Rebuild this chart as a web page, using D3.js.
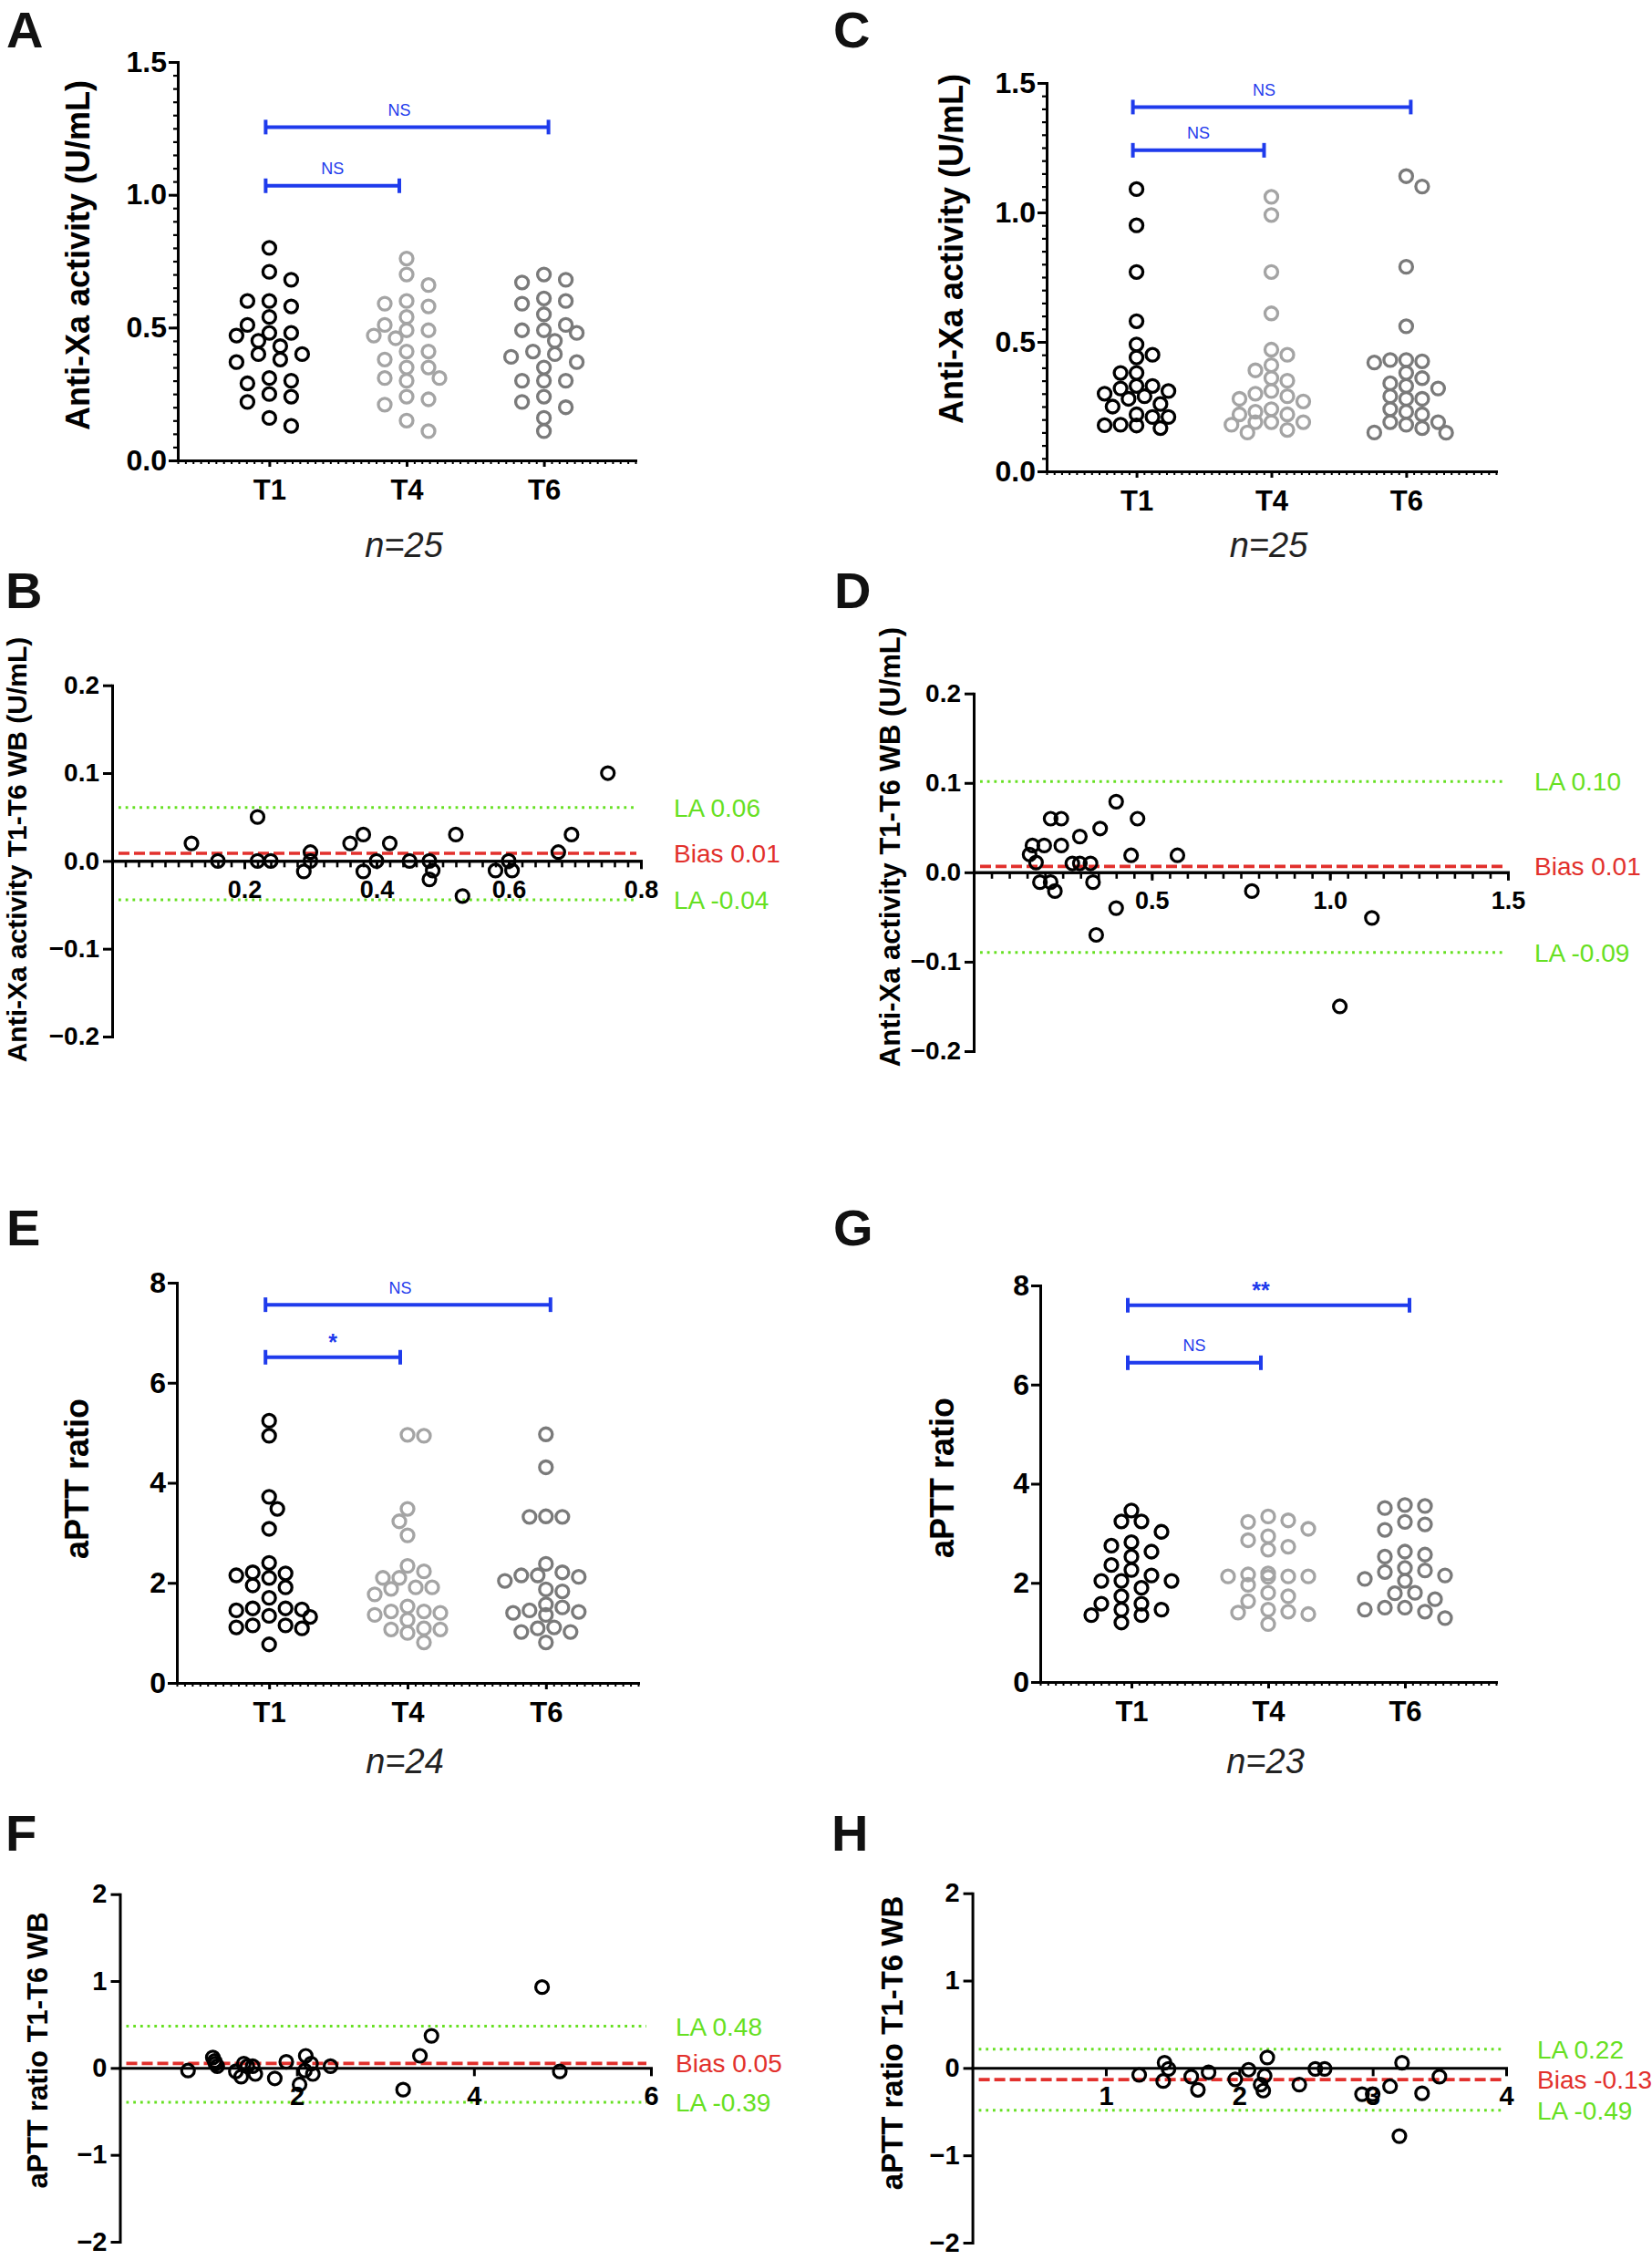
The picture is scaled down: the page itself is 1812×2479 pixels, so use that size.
<!DOCTYPE html>
<html><head><meta charset="utf-8">
<script src="https://cdn.jsdelivr.net/npm/d3@7"></script>
<style>body{margin:0;background:#fff}</style>
</head><body>
<svg id="fig" width="1812" height="2479"></svg>
<script>
// ---------------- DATA ----------------
const categories = ["T1", "T4", "T6"];

// Panel A: Anti-Xa activity (U/mL), n=25
const antiXaA_T1 = [0.58,0.60,0.71,0.80,0.68,0.60,0.54,0.48,0.48,0.43,0.47,0.51,0.45,0.40,0.40,0.37,0.38,0.30,0.31,0.29,0.24,0.25,0.22,0.16,0.13];
const antiXaA_T4 = [0.76,0.70,0.66,0.60,0.59,0.58,0.54,0.49,0.49,0.51,0.46,0.47,0.41,0.41,0.38,0.35,0.35,0.30,0.31,0.31,0.24,0.23,0.21,0.15,0.11];
const antiXaA_T6 = [0.70,0.68,0.67,0.59,0.60,0.61,0.55,0.49,0.48,0.49,0.51,0.45,0.40,0.41,0.37,0.39,0.35,0.30,0.30,0.30,0.24,0.22,0.20,0.16,0.11];
const bracketsA = [
  {from: "T1", to: "T4", value: 1.034, label: "NS"},
  {from: "T1", to: "T6", value: 1.255, label: "NS"}
];

// Panel C: Anti-Xa activity (U/mL), n=25
const antiXaC_T1 = [1.09,0.95,0.77,0.58,0.49,0.44,0.45,0.38,0.38,0.32,0.33,0.33,0.30,0.31,0.28,0.29,0.25,0.26,0.21,0.21,0.22,0.18,0.177,0.167,0.178];
const antiXaC_T4 = [1.06,0.99,0.77,0.61,0.47,0.45,0.41,0.39,0.36,0.35,0.30,0.31,0.28,0.29,0.27,0.24,0.22,0.23,0.22,0.19,0.19,0.19,0.18,0.16,0.15];
const antiXaC_T6 = [1.14,1.10,0.79,0.56,0.43,0.425,0.43,0.42,0.38,0.36,0.33,0.32,0.34,0.29,0.28,0.28,0.24,0.22,0.23,0.19,0.19,0.18,0.167,0.15,0.149];
const bracketsC = [
  {from: "T1", to: "T4", value: 1.24, label: "NS"},
  {from: "T1", to: "T6", value: 1.407, label: "NS"}
];

// Panel E: aPTT ratio, n=24
const aPTTE_T1 = [5.24,4.94,3.72,3.48,3.08,2.40,2.21,2.19,2.10,2.15,1.95,1.91,1.70,1.47,1.45,1.49,1.49,1.34,1.32,1.15,1.11,1.15,1.09,0.77];
const aPTTE_T4 = [4.94,4.96,3.48,3.23,2.95,2.34,2.23,2.10,2.10,1.88,1.91,1.91,1.77,1.53,1.43,1.43,1.40,1.36,1.26,1.07,1.09,1.07,1.00,0.81];
const aPTTE_T6 = [4.97,4.31,3.32,3.33,3.32,2.38,2.15,2.12,2.15,2.21,2.04,1.87,1.83,1.51,1.57,1.36,1.42,1.45,1.40,1.09,1.11,1.02,1.02,0.81];
const bracketsE = [
  {from: "T1", to: "T4", value: 6.51, label: "*"},
  {from: "T1", to: "T6", value: 7.56, label: "NS"}
];

// Panel G: aPTT ratio, n=23
const aPTTG_T1 = [3.46,3.24,3.24,3.03,2.82,2.75,2.63,2.53,2.36,2.26,2.15,2.04,2.04,2.04,1.90,1.73,1.58,1.58,1.46,1.46,1.35,1.35,1.20];
const aPTTG_T4 = [3.34,3.23,3.26,3.09,2.94,2.86,2.73,2.67,2.13,2.17,2.12,2.19,2.13,2.13,1.96,1.80,1.73,1.63,1.42,1.40,1.37,1.46,1.17];
const aPTTG_T6 = [3.57,3.55,3.51,3.23,3.18,3.07,2.63,2.57,2.53,2.30,2.22,2.25,2.04,2.08,2.15,1.80,1.79,1.67,1.50,1.50,1.46,1.42,1.29];
const bracketsG = [
  {from: "T1", to: "T4", value: 6.44, label: "NS"},
  {from: "T1", to: "T6", value: 7.60, label: "**"}
];

// Bland-Altman B: mean vs difference (T1-T6 WB)
const baB_mean = [0.12,0.16,0.22,0.22,0.24,0.29,0.30,0.30,0.36,0.38,0.38,0.40,0.42,0.45,0.48,0.48,0.485,0.52,0.53,0.58,0.60,0.605,0.675,0.695,0.75];
const baB_diff = [0.02,0.00,0.05,0.00,0.00,-0.012,0.00,0.01,0.02,0.03,-0.012,0.00,0.02,0.00,0.00,-0.021,-0.011,0.03,-0.04,-0.011,0.00,-0.011,0.01,0.03,0.10];
const limitsB = [0.0608, 0.0086, -0.0444];
const limitLabelsB = ["LA 0.06", "Bias 0.01", "LA -0.04"];

// Bland-Altman D
const baD_mean = [0.157,0.165,0.175,0.186,0.198,0.216,0.216,0.228,0.246,0.246,0.277,0.298,0.298,0.328,0.335,0.344,0.355,0.40,0.40,0.442,0.46,0.572,0.781,1.028,1.118];
const baD_diff = [0.02,0.03,0.011,-0.011,0.03,0.06,-0.011,-0.021,0.06,0.03,0.01,0.04,0.01,0.01,-0.011,-0.07,0.049,0.079,-0.04,0.019,0.06,0.019,-0.021,-0.15,-0.051];
const limitsD = [0.1016, 0.0066, -0.0896];
const limitLabelsD = ["LA 0.10", "Bias 0.01", "LA -0.09"];

// Bland-Altman F
const baF_mean = [0.77,1.05,1.07,1.08,1.10,1.31,1.37,1.40,1.44,1.50,1.53,1.75,1.88,2.03,2.09,2.10,2.16,2.18,2.38,3.20,3.39,3.52,4.77,4.97];
const baF_diff = [-0.03,0.12,0.08,0.05,0.02,-0.04,-0.10,0.05,0.02,0.02,-0.07,-0.12,0.07,-0.19,-0.03,0.14,0.05,-0.07,0.02,-0.25,0.14,0.37,0.93,-0.04];
const limitsF = [0.48, 0.052, -0.396];
const limitLabelsF = ["LA 0.48", "Bias 0.05", "LA -0.39"];

// Bland-Altman H
const baH_mean = [1.25,1.44,1.47,1.43,1.64,1.69,1.77,1.97,2.07,2.16,2.18,2.19,2.21,2.45,2.57,2.64,2.92,3.00,3.13,3.22,3.20,3.37,3.50];
const baH_diff = [-0.08,0.06,-0.01,-0.15,-0.10,-0.25,-0.05,-0.13,-0.02,-0.19,-0.26,-0.09,0.12,-0.19,-0.01,-0.01,-0.30,-0.30,-0.21,0.06,-0.78,-0.29,-0.10];
const limitsH = [0.215, -0.133, -0.485];
const limitLabelsH = ["LA 0.22", "Bias -0.13", "LA -0.49"];

// Tick values
const ticksAntiXa = [0, 0.5, 1.0, 1.5];
const ticksAPTT = [0, 2, 4, 6, 8];
const ticksDiffXa = [-0.2, -0.1, 0, 0.1, 0.2];
const ticksDiffAPTT = [-2, -1, 0, 1, 2];
const ticksMeanB = [0.2, 0.4, 0.6, 0.8];
const ticksMeanD = [0.5, 1.0, 1.5];
const ticksMeanF = [2, 4, 6];
const ticksMeanH = [1, 2, 3, 4];

// ---------------- STYLE ----------------
const FONT = "'Liberation Sans', Arial, Helvetica, sans-serif";
const GROUP_COLORS = ["#000000", "#a4a4a4", "#7a7a7a"];
const BLUE = "#1f3bec";
const GREEN = "#66e022";
const RED = "#e2302c";

const svg = d3.select("#fig");
svg.append("rect").attr("width", 1812).attr("height", 2479).attr("fill", "#fff");

function styleAxis(g, fs, tickW) {
  g.selectAll("path.domain").attr("stroke", "#000").attr("stroke-width", 3).attr("stroke-linecap", "square");
  g.selectAll(".tick line").attr("stroke", "#000").attr("stroke-width", tickW || 3);
  g.selectAll(".tick text").attr("fill", "#000").attr("font-family", FONT)
    .attr("font-weight", "bold").attr("font-size", fs);
}

function letter(txt, x, y) {
  svg.append("text").attr("x", x).attr("y", y).text(txt)
    .attr("font-family", FONT).attr("font-weight", "bold").attr("font-size", 56).attr("fill", "#111");
}

function yLabel(txt, bx, cy, fs) {
  svg.append("text").attr("transform", `translate(${bx},${cy}) rotate(-90)`)
    .attr("text-anchor", "middle").attr("font-family", FONT).attr("font-weight", "bold")
    .attr("font-size", fs).attr("fill", "#000").text(txt);
}

// beeswarm-like placement of column scatter points (highest value first)
function swarm(vals, y, rx, ry, half, maxW) {
  const idx = d3.range(vals.length).sort((a, b) => d3.descending(vals[a], vals[b]) || a - b);
  const placed = [];
  const res = [];
  const K = Math.floor(maxW / half + 1e-6);
  idx.forEach(i => {
    const py = y(vals[i]);
    let best = null, bestCost = Infinity;
    const bal = d3.sum(placed, q => Math.sign(q.x));
    outer:
    for (let k = 0; k <= K; k++) {
      const cands = k === 0 ? [0] : (bal <= 0 ? [k, -k] : [-k, k]);
      for (const c of cands) {
        const px = c * half;
        let cost = 0;
        placed.forEach(q => {
          const d = ((q.x - px) / rx) ** 2 + ((q.y - py) / ry) ** 2;
          if (d < 1) cost += 1 - d;
        });
        if (cost === 0) { best = px; bestCost = 0; break outer; }
        if (cost < bestCost - 1e-9) { bestCost = cost; best = px; }
      }
    }
    placed.push({x: best, y: py});
    res.push({v: vals[i], dx: best});
  });
  return res;
}

function scatterPanel(p) {
  const g = svg.append("g");
  const y = d3.scaleLinear().domain([0, p.yMax]).range([p.yBot, p.yTop]);
  const xc = d3.scalePoint().domain(categories).range([p.x0, p.x1]).padding(2 / 3);
  const xm = d3.scaleLinear().domain([0, 60]).range([p.x0, p.x1]);

  if (p.yMinor) {
    const minorVals = d3.range(0, Math.round(p.yMax / p.yMinor) + 1).map(i => i * p.yMinor);
    const gm = g.append("g").attr("transform", `translate(${p.x0},0)`)
      .call(d3.axisLeft(y).tickValues(minorVals).tickSize(5).tickFormat("").tickSizeOuter(0));
    styleAxis(gm, 1, 2.2);
  }
  const gy = g.append("g").attr("transform", `translate(${p.x0},0)`)
    .call(d3.axisLeft(y).tickValues(p.yTicks).tickSize(10).tickPadding(2)
      .tickFormat(d3.format(p.yFmt)).tickSizeOuter(0));
  styleAxis(gy, 32);

  const gxm = g.append("g").attr("transform", `translate(0,${p.yBot})`)
    .call(d3.axisBottom(xm).tickValues(d3.range(61)).tickSize(4).tickFormat("").tickSizeOuter(0));
  styleAxis(gxm, 1, 2);
  const gx = g.append("g").attr("transform", `translate(0,${p.yBot})`)
    .call(d3.axisBottom(xc).tickSize(7).tickPadding(14).tickSizeOuter(0));
  gx.select("path.domain").remove();
  styleAxis(gx, 31);

  p.series.forEach((vals, gi) => {
    const pts = swarm(vals, y, p.rx, 14, p.half, p.maxW);
    g.append("g").selectAll("circle").data(pts).join("circle")
      .attr("cx", d => xc(categories[gi]) + d.dx)
      .attr("cy", d => y(d.v))
      .attr("r", 7).attr("fill", "none")
      .attr("stroke", GROUP_COLORS[gi]).attr("stroke-width", 3.3);
  });

  p.brackets.forEach(b => {
    const xs = xc(b.from) - 4;
    const xe = xc(b.to) + (b.to === "T6" ? 5 : -8);
    const yy = y(b.value);
    const bg = g.append("g").attr("stroke", BLUE).attr("stroke-width", 4);
    bg.append("line").attr("x1", xs).attr("x2", xe).attr("y1", yy).attr("y2", yy);
    bg.append("line").attr("x1", xs).attr("x2", xs).attr("y1", yy - 8).attr("y2", yy + 8);
    bg.append("line").attr("x1", xe).attr("x2", xe).attr("y1", yy - 8).attr("y2", yy + 8);
    const star = b.label.indexOf("*") >= 0;
    const lx = b.to === "T6" ? xc("T4") - 8 : (xs + xe) / 2;
    g.append("text").attr("x", lx).attr("y", yy - (star ? 8 : 12.5))
      .attr("text-anchor", "middle").attr("font-family", FONT)
      .attr("font-weight", star ? "bold" : "normal")
      .attr("font-size", star ? 25 : 18).attr("fill", BLUE).text(b.label);
  });

  g.append("text").attr("x", xc("T4") - 3).attr("y", p.nBase).attr("text-anchor", "middle")
    .attr("font-family", FONT).attr("font-style", "italic").attr("font-size", 38)
    .attr("fill", "#222").text(p.n);

  yLabel(p.ylabel, p.labBX, p.labCY, 36);
  letter(p.id, p.letterX, p.letterY);
}

function baPanel(p) {
  const g = svg.append("g");
  const x = d3.scaleLinear().domain([0, p.xMax]).range([p.x0, p.x1]);
  const y = d3.scaleLinear().domain([-p.yMax, p.yMax]).range([p.yBot, p.yTop]);

  p.limits.forEach((v, i) => {
    const isBias = i === 1;
    g.append("line").attr("x1", p.x0 + 7).attr("x2", p.x1 - 5)
      .attr("y1", y(v)).attr("y2", y(v))
      .attr("stroke", isBias ? RED : GREEN)
      .attr("stroke-width", isBias ? 3.6 : 3)
      .attr("stroke-dasharray", isBias ? "12 5" : "2.8 4.9");
    g.append("text").attr("x", p.labX).attr("y", y(v)).attr("dy", "0.36em")
      .attr("font-family", FONT).attr("font-size", 28)
      .attr("fill", isBias ? RED : GREEN).text(p.limitLabels[i]);
  });

  const gy = g.append("g").attr("transform", `translate(${p.x0},0)`)
    .call(d3.axisLeft(y).tickValues(p.yTicks).tickSize(10).tickPadding(4)
      .tickFormat(d3.format(p.yFmt)).tickSizeOuter(0));
  styleAxis(gy, p.yfs);

  if (p.xMinor) {
    const n = Math.round(p.xMax / p.xMinor);
    const gm = g.append("g").attr("transform", `translate(0,${y(0)})`)
      .call(d3.axisBottom(x).tickValues(d3.range(1, n + 1).map(i => i * p.xMinor)).tickSize(7).tickFormat("").tickSizeOuter(0));
    styleAxis(gm, 1, 2.6);
  }
  const gx = g.append("g").attr("transform", `translate(0,${y(0)})`)
    .call(d3.axisBottom(x).tickValues(p.xTicks).tickSize(9).tickPadding(p.xPad)
      .tickFormat(d3.format(p.xFmt)).tickSizeOuter(0));
  styleAxis(gx, p.xfs);

  g.append("g").selectAll("circle").data(p.mean.map((m, i) => [m, p.diff[i]])).join("circle")
    .attr("cx", d => x(d[0])).attr("cy", d => y(d[1]))
    .attr("r", 7).attr("fill", "none").attr("stroke", "#000").attr("stroke-width", 3.2);

  yLabel(p.ylabel, p.labBX, p.labCY, p.labFs);
  letter(p.id, p.letterX, p.letterY);
}

// ---------------- PANELS ----------------
scatterPanel({id: "A", letterX: 7, letterY: 52, x0: 195, x1: 697, yTop: 68, yBot: 505, yMax: 1.5,
  yTicks: ticksAntiXa, yMinor: 0.05, yFmt: ".1f", series: [antiXaA_T1, antiXaA_T4, antiXaA_T6],
  brackets: bracketsA, n: "n=25", nBase: 611, ylabel: "Anti-Xa activity (U/mL)", labBX: 98, labCY: 280,
  rx: 23, half: 12, maxW: 37});
scatterPanel({id: "C", letterX: 914, letterY: 52, x0: 1148, x1: 1641, yTop: 91, yBot: 517, yMax: 1.5,
  yTicks: ticksAntiXa, yMinor: 0.05, yFmt: ".1f", series: [antiXaC_T1, antiXaC_T4, antiXaC_T6],
  brackets: bracketsC, n: "n=25", nBase: 611, ylabel: "Anti-Xa activity (U/mL)", labBX: 1056, labCY: 273,
  rx: 17, half: 8.75, maxW: 44});
scatterPanel({id: "E", letterX: 7, letterY: 1366, x0: 194, x1: 700, yTop: 1407, yBot: 1846, yMax: 8,
  yTicks: ticksAPTT, yMinor: null, yFmt: "d", series: [aPTTE_T1, aPTTE_T4, aPTTE_T6],
  brackets: bracketsE, n: "n=24", nBase: 1945, ylabel: "aPTT ratio", labBX: 97, labCY: 1622,
  rx: 17.5, half: 9, maxW: 45});
scatterPanel({id: "G", letterX: 914, letterY: 1366, x0: 1141, x1: 1641, yTop: 1410, yBot: 1845, yMax: 8,
  yTicks: ticksAPTT, yMinor: null, yFmt: "d", series: [aPTTG_T1, aPTTG_T4, aPTTG_T6],
  brackets: bracketsG, n: "n=23", nBase: 1945, ylabel: "aPTT ratio", labBX: 1046, labCY: 1621,
  rx: 21, half: 11, maxW: 44});

baPanel({id: "B", letterX: 6, letterY: 667, x0: 123, x1: 703, xMax: 0.8, yTop: 751.7, yBot: 1137, yMax: 0.2,
  yTicks: ticksDiffXa, yFmt: ".1f", yfs: 28, xTicks: ticksMeanB, xMinor: 0.02, xFmt: ".1f", xfs: 27, xPad: 12,
  mean: baB_mean, diff: baB_diff, limits: limitsB, limitLabels: limitLabelsB, labX: 739,
  ylabel: "Anti-Xa activity T1-T6 WB (U/mL)", labBX: 29, labCY: 932, labFs: 30});
baPanel({id: "D", letterX: 915, letterY: 667, x0: 1068, x1: 1654, xMax: 1.5, yTop: 760.7, yBot: 1153, yMax: 0.2,
  yTicks: ticksDiffXa, yFmt: ".1f", yfs: 28, xTicks: ticksMeanD, xMinor: 0.05, xFmt: ".1f", xfs: 27, xPad: 12,
  mean: baD_mean, diff: baD_diff, limits: limitsD, limitLabels: limitLabelsD, labX: 1683,
  ylabel: "Anti-Xa activity T1-T6 WB (U/mL)", labBX: 987, labCY: 929, labFs: 31});
baPanel({id: "F", letterX: 6, letterY: 2030, x0: 131.5, x1: 714, xMax: 6, yTop: 2077.7, yBot: 2459, yMax: 2,
  yTicks: ticksDiffAPTT, yFmt: "d", yfs: 29, xTicks: ticksMeanF, xMinor: null, xFmt: "d", xfs: 29, xPad: 11,
  mean: baF_mean, diff: baF_diff, limits: limitsF, limitLabels: limitLabelsF, labX: 741,
  ylabel: "aPTT ratio T1-T6 WB", labBX: 52, labCY: 2249, labFs: 31});
baPanel({id: "H", letterX: 912, letterY: 2030, x0: 1066.6, x1: 1652, xMax: 4, yTop: 2076.7, yBot: 2460, yMax: 2,
  yTicks: ticksDiffAPTT, yFmt: "d", yfs: 29, xTicks: ticksMeanH, xMinor: null, xFmt: "d", xfs: 29, xPad: 11,
  mean: baH_mean, diff: baH_diff, limits: limitsH, limitLabels: limitLabelsH, labX: 1686,
  ylabel: "aPTT ratio T1-T6 WB", labBX: 990, labCY: 2241, labFs: 33});
</script>
</body></html>
